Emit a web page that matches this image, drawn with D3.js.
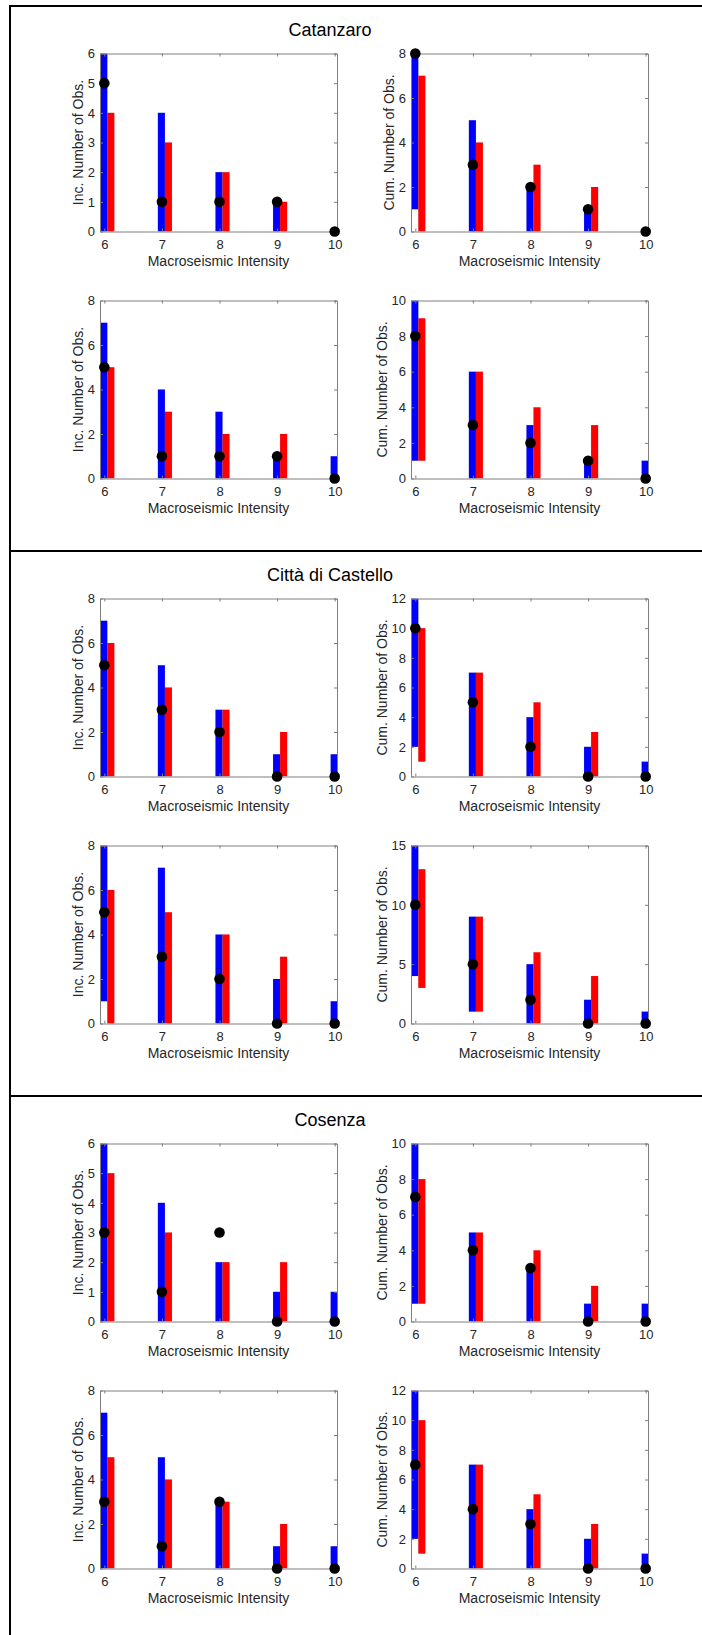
<!DOCTYPE html>
<html>
<head>
<meta charset="utf-8">
<script src="https://cdn.jsdelivr.net/npm/d3@7"></script>
<style>
  body { margin: 0; background: #fff; }
  svg { display: block; font-family: "Liberation Sans", Arial, Helvetica, sans-serif; }
</style>
</head>
<body>
<svg id="viz"></svg>
<script>
// ---------------------------
// Data
// ---------------------------

const intensities = [6, 7, 8, 9, 10];
const siteNames = ["Catanzaro", "Città di Castello", "Cosenza"];

// each bar is [low, high]; null where no bar shows
const catIncTopBlue = [[0,6],[0,4],[0,2],[0,1],null];
const catIncTopRed  = [[0,4],[0,3],[0,2],[0,1],null];
const catIncTopObs  = [5,1,1,1,0];
const catCumTopBlue = [[1,8],[0,5],[0,2],[0,1],null];
const catCumTopRed  = [[0,7],[0,4],[0,3],[0,2],null];
const catCumTopObs  = [8,3,2,1,0];
const catIncBotBlue = [[0,7],[0,4],[0,3],[0,1],[0,1]];
const catIncBotRed  = [[0,5],[0,3],[0,2],[0,2],null];
const catIncBotObs  = [5,1,1,1,0];
const catCumBotBlue = [[1,10],[0,6],[0,3],[0,1],[0,1]];
const catCumBotRed  = [[1,9],[0,6],[0,4],[0,3],null];
const catCumBotObs  = [8,3,2,1,0];

const citIncTopBlue = [[0,7],[0,5],[0,3],[0,1],[0,1]];
const citIncTopRed  = [[0,6],[0,4],[0,3],[0,2],null];
const citIncTopObs  = [5,3,2,0,0];
const citCumTopBlue = [[2,12],[0,7],[0,4],[0,2],[0,1]];
const citCumTopRed  = [[1,10],[0,7],[0,5],[0,3],null];
const citCumTopObs  = [10,5,2,0,0];
const citIncBotBlue = [[1,8],[0,7],[0,4],[0,2],[0,1]];
const citIncBotRed  = [[0,6],[0,5],[0,4],[0,3],null];
const citIncBotObs  = [5,3,2,0,0];
const citCumBotBlue = [[4,15],[1,9],[0,5],[0,2],[0,1]];
const citCumBotRed  = [[3,13],[1,9],[0,6],[0,4],null];
const citCumBotObs  = [10,5,2,0,0];

const cosIncTopBlue = [[0,6],[0,4],[0,2],[0,1],[0,1]];
const cosIncTopRed  = [[0,5],[0,3],[0,2],[0,2],null];
const cosIncTopObs  = [3,1,3,0,0];
const cosCumTopBlue = [[1,10],[0,5],[0,3],[0,1],[0,1]];
const cosCumTopRed  = [[1,8],[0,5],[0,4],[0,2],null];
const cosCumTopObs  = [7,4,3,0,0];
const cosIncBotBlue = [[0,7],[0,5],[0,3],[0,1],[0,1]];
const cosIncBotRed  = [[0,5],[0,4],[0,3],[0,2],null];
const cosIncBotObs  = [3,1,3,0,0];
const cosCumBotBlue = [[2,12],[0,7],[0,4],[0,2],[0,1]];
const cosCumBotRed  = [[1,10],[0,7],[0,5],[0,3],null];
const cosCumBotObs  = [7,4,3,0,0];

// y tick labels
const ticks6  = [0,1,2,3,4,5,6];
const ticks8  = [0,2,4,6,8];
const ticks10 = [0,2,4,6,8,10];
const ticks12 = [0,2,4,6,8,10,12];
const ticks15 = [0,5,10,15];

const incLabel = "Inc. Number of Obs.";
const cumLabel = "Cum. Number of Obs.";
const xLabel = "Macroseismic Intensity";

// panels per site: [top-left, top-right, bottom-left, bottom-right]
const sitePanels = [
    [
        {blue: catIncTopBlue, red: catIncTopRed, obs: catIncTopObs, ticks: ticks6,  label: incLabel},
        {blue: catCumTopBlue, red: catCumTopRed, obs: catCumTopObs, ticks: ticks8,  label: cumLabel},
        {blue: catIncBotBlue, red: catIncBotRed, obs: catIncBotObs, ticks: ticks8,  label: incLabel},
        {blue: catCumBotBlue, red: catCumBotRed, obs: catCumBotObs, ticks: ticks10, label: cumLabel}
    ],
    [
        {blue: citIncTopBlue, red: citIncTopRed, obs: citIncTopObs, ticks: ticks8,  label: incLabel},
        {blue: citCumTopBlue, red: citCumTopRed, obs: citCumTopObs, ticks: ticks12, label: cumLabel},
        {blue: citIncBotBlue, red: citIncBotRed, obs: citIncBotObs, ticks: ticks8,  label: incLabel},
        {blue: citCumBotBlue, red: citCumBotRed, obs: citCumBotObs, ticks: ticks15, label: cumLabel}
    ],
    [
        {blue: cosIncTopBlue, red: cosIncTopRed, obs: cosIncTopObs, ticks: ticks6,  label: incLabel},
        {blue: cosCumTopBlue, red: cosCumTopRed, obs: cosCumTopObs, ticks: ticks10, label: cumLabel},
        {blue: cosIncBotBlue, red: cosIncBotRed, obs: cosIncBotObs, ticks: ticks8,  label: incLabel},
        {blue: cosCumBotBlue, red: cosCumBotRed, obs: cosCumBotObs, ticks: ticks12, label: cumLabel}
    ]
];

// ---------------------------
// Create SVG
// ---------------------------

const width = 702;
const height = 1635;

const svg = d3.select("#viz")
    .attr("width", width)
    .attr("height", height);

svg.append("rect")
    .attr("width", width)
    .attr("height", height)
    .attr("fill", "#fff");

const sectionTops = [6, 551, 1096];
const colLeft = [100, 411];
const rowTop = [47.5, 294.5];
const plotW = 237;
const plotH = 178;
const axisColor = "#7f7f7f";
const textColor = "#262626";

// ---------------------------
// Draw one panel
// ---------------------------

function drawPanel(g, p, id){

    const yMax = p.ticks[p.ticks.length - 1];

    const x = d3.scaleLinear()
        .domain([5.925, 10.04])
        .range([0, plotW]);

    const y = d3.scaleLinear()
        .domain([0, yMax])
        .range([plotH, 0]);

    g.append("clipPath")
        .attr("id", id)
        .append("rect")
        .attr("x", -6)
        .attr("y", 0)
        .attr("width", plotW + 6)
        .attr("height", plotH);

    const bars = g.append("g").attr("clip-path", `url(#${id})`);

    const series = [
        {vals: p.blue, color: "#0000ff", x0: -0.07,  x1: 0.052},
        {vals: p.red,  color: "#ff0000", x0: 0.052,  x1: 0.174}
    ];

    series.forEach(s=>{
        bars.selectAll(null)
            .data(intensities.map((k,i)=>({k: k, v: s.vals[i]})).filter(d=>d.v))
            .enter()
            .append("rect")
            .attr("x", d=>x(d.k + s.x0))
            .attr("width", d=>x(d.k + s.x1) - x(d.k + s.x0))
            .attr("y", d=>y(d.v[1]))
            .attr("height", d=>y(d.v[0]) - y(d.v[1]))
            .attr("fill", s.color)
            .attr("stroke", "rgba(0,0,0,0.12)")
            .attr("stroke-width", 0.5);
    });

    // box with inner ticks on all four sides
    const axes = [
        {ax: d3.axisBottom(x).tickValues(intensities), tr: `translate(0,${plotH})`, labels: true, bottom: true},
        {ax: d3.axisTop(x).tickValues(intensities), tr: "translate(0,0)", labels: false},
        {ax: d3.axisLeft(y).tickValues(p.ticks), tr: "translate(0,0)", labels: true},
        {ax: d3.axisRight(y).tickValues(p.ticks), tr: `translate(${plotW},0)`, labels: false}
    ];

    axes.forEach(a=>{
        const ag = g.append("g")
            .attr("transform", a.tr)
            .call(a.ax.tickSizeInner(-3).tickSizeOuter(0).tickPadding(5).tickFormat(d3.format("d")));
        ag.attr("font-size", null).attr("font-family", null);
        ag.select(".domain").attr("stroke", axisColor);
        ag.selectAll(".tick line").attr("stroke", axisColor);
        ag.selectAll(".tick text")
            .attr("fill", textColor)
            .style("font-size", "13px");
        if(a.bottom) ag.selectAll(".tick text").attr("y", 8);
        if(!a.labels) ag.selectAll(".tick text").remove();
    });

    // observed points
    g.selectAll(null)
        .data(intensities.map((k,i)=>({k: k, v: p.obs[i]})))
        .enter()
        .append("circle")
        .attr("cx", d=>x(d.k))
        .attr("cy", d=>y(d.v))
        .attr("r", 5.3)
        .attr("fill", "#000");

    // axis labels
    g.append("text")
        .attr("x", plotW/2)
        .attr("y", plotH + 34)
        .attr("text-anchor", "middle")
        .style("font-size", "14px")
        .attr("fill", textColor)
        .text(xLabel);

    const tickW = d3.max(p.ticks, t=>String(t).length) * 7.2;

    g.append("text")
        .attr("transform", `translate(${-tickW - 10},${plotH/2}) rotate(-90)`)
        .attr("text-anchor", "middle")
        .style("font-size", "14px")
        .attr("fill", textColor)
        .text(p.label);

}

// ---------------------------
// Sections
// ---------------------------

sectionTops.forEach((top, s)=>{

    svg.append("line")
        .attr("x1", 9).attr("x2", width)
        .attr("y1", top).attr("y2", top)
        .attr("stroke", "#000")
        .attr("stroke-width", 2);

    svg.append("text")
        .attr("x", 330)
        .attr("y", top + 30)
        .attr("text-anchor", "middle")
        .style("font-size", "18px")
        .attr("fill", "#000")
        .text(siteNames[s]);

    sitePanels[s].forEach((p, i)=>{
        const g = svg.append("g")
            .attr("transform", `translate(${colLeft[i % 2]},${top + rowTop[Math.floor(i / 2)]})`);
        drawPanel(g, p, `clip-${s}-${i}`);
    });

});

svg.append("line")
    .attr("x1", 10).attr("x2", 10)
    .attr("y1", 5).attr("y2", height)
    .attr("stroke", "#000")
    .attr("stroke-width", 2);

</script>
</body>
</html>
